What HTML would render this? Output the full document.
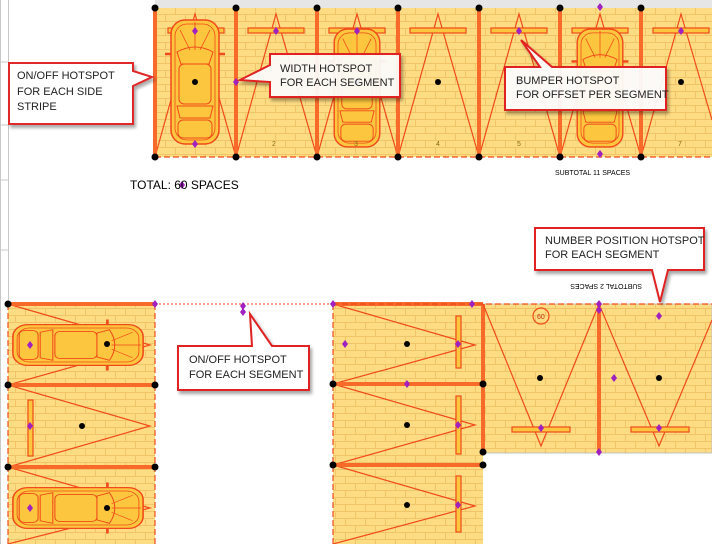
<!DOCTYPE html>
<html><head><meta charset="utf-8"><style>
html,body{margin:0;padding:0;background:#fff;width:712px;height:544px;overflow:hidden}
svg{display:block}
text{font-family:"Liberation Sans",sans-serif}
</style></head><body>
<svg width="712" height="544" viewBox="0 0 712 544" xmlns="http://www.w3.org/2000/svg">
<defs>
<pattern id="brick" width="20" height="14" patternUnits="userSpaceOnUse">
<rect width="20" height="14" fill="#fddc84"/>
<path d="M0 0.5H20M0 7.5H20M5.5 0V7M15.5 7V14" stroke="#f2c468" stroke-width="1" fill="none"/>
</pattern>
<filter id="sh" x="-10%" y="-10%" width="130%" height="140%"><feDropShadow dx="2" dy="3" stdDeviation="1.5" flood-color="#000" flood-opacity="0.35"/></filter>
<g id="car">
<rect x="-24" y="-62" width="48" height="124" rx="14" fill="#fcc63e" stroke="#f04a1a" stroke-width="1.5"/>
<rect x="-20" y="-58" width="40" height="116" rx="12" fill="none" stroke="#f04a1a" stroke-width="0.8"/>
<path d="M-18 -30Q0 -40 18 -30L14 -18H-14Z" fill="none" stroke="#f04a1a"/>
<path d="M-15 -52L-5 -32M15 -52L5 -32M0 -60V-32" stroke="#f04a1a" stroke-width="0.8" fill="none"/>
<rect x="-16" y="-18" width="32" height="40" rx="5" fill="#fcc63e" stroke="#f04a1a"/>
<path d="M-18 24H18L15 36H-15Z" fill="none" stroke="#f04a1a"/>
<rect x="-17" y="38" width="34" height="18" rx="5" fill="none" stroke="#f04a1a"/>
<path d="M-24 -28H-30M24 -28H30" stroke="#f04a1a" stroke-width="2.5"/>
</g>
</defs>
<path d="M0.5 0V544M8.5 0V544M0 62H8M0 125H8M0 180H8M0 250H8" stroke="#c8c8c8" fill="none"/>
<rect x="155" y="0" width="557" height="8" fill="#e6e6e6"/>
<path d="M155 8.5H712" stroke="#a0a0a0"/>
<rect x="155" y="8" width="557" height="149" fill="url(#brick)"/>
<rect x="8" y="304" width="147" height="240" fill="url(#brick)"/>
<rect x="333" y="304" width="150" height="240" fill="url(#brick)"/>
<rect x="483" y="304" width="229" height="149" fill="url(#brick)" stroke="#c0c0c0"/>
<g stroke="#f04a1a" fill="none" stroke-width="1.2">
<path d="M155 157L195 14L236 157L276 14L317 157L357 14L398 157L438 14L479 157L519 14L560 157L600 14L641 157L681 14L712 120"/>
<g stroke-width="4" stroke="#f76a2a"><path d="M155 8V157M236 8V157M317 8V157M398 8V157M479 8V157M560 8V157M641 8V157"/></g>
<path d="M155 157H712" stroke-dasharray="6 3"/>
<g fill="#fcc63e"><rect x="168" y="28" width="56" height="5"/><rect x="248" y="28" width="56" height="5"/><rect x="329" y="28" width="56" height="5"/><rect x="410" y="28" width="56" height="5"/><rect x="491" y="28" width="56" height="5"/><rect x="572" y="28" width="56" height="5"/><rect x="653" y="28" width="56" height="5"/></g>
<path d="M8 304L150 345L8 385L150 426L8 467L150 508L8 544"/>
<g stroke-width="4" stroke="#f76a2a"><path d="M8 304H155M8 385H155M8 467H155"/></g>
<path d="M8 304V544M155 304V544" stroke-dasharray="6 3"/>
<rect x="28" y="400" width="5" height="56" fill="#fcc63e"/>
<path d="M333 304L475 345L333 384L475 425L333 465L475 506L333 544"/>
<g stroke-width="4" stroke="#f76a2a"><path d="M333 304H483M333 384H483M333 465H483M483 304V453"/></g>
<path d="M333 304V544" stroke-dasharray="6 3"/>
<g fill="#fcc63e"><rect x="456" y="316" width="5" height="52"/><rect x="456" y="396" width="5" height="58"/><rect x="456" y="476" width="5" height="56"/></g>
<path d="M483 304L541 446L599 304L659 446L712 320"/>
<g stroke-width="4" stroke="#f76a2a"><path d="M599 304V453"/></g>
<path d="M155 304H333" stroke-dasharray="2 2" stroke-width="1"/>
<path d="M333 304H712" stroke-dasharray="6 3"/>
<g fill="#fcc63e"><rect x="512" y="427" width="58" height="5"/><rect x="631" y="427" width="58" height="5"/></g>
<circle cx="541" cy="316" r="8"/>
</g>
<use href="#car" transform="translate(195,82)"/>
<use href="#car" transform="translate(357,88) scale(0.95,0.95)"/>
<use href="#car" transform="translate(600,88) scale(0.95,0.95)"/>
<use href="#car" transform="translate(78,345) rotate(90) scale(0.85,1.05)"/>
<use href="#car" transform="translate(78,508) rotate(90) scale(0.85,1.05)"/>
<g font-size="7" fill="#8a6a10"><text x="272" y="146">2</text><text x="354" y="146">3</text><text x="436" y="146">4</text><text x="517" y="146">5</text><text x="678" y="146">7</text><text x="537" y="319" fill="#c03010">60</text></g>
<g fill="#000">
<circle cx="155" cy="8" r="3.5"/><circle cx="236" cy="8" r="3.5"/><circle cx="317" cy="8" r="3.5"/><circle cx="398" cy="8" r="3.5"/><circle cx="479" cy="8" r="3.5"/><circle cx="560" cy="8" r="3.5"/><circle cx="641" cy="8" r="3.5"/>
<circle cx="155" cy="157" r="3.5"/><circle cx="236" cy="157" r="3.5"/><circle cx="317" cy="157" r="3.5"/><circle cx="398" cy="157" r="3.5"/><circle cx="479" cy="157" r="3.5"/><circle cx="560" cy="157" r="3.5"/><circle cx="641" cy="157" r="3.5"/>
<circle cx="195" cy="82" r="3"/><circle cx="357" cy="82" r="3"/><circle cx="438" cy="82" r="3"/><circle cx="519" cy="82" r="3"/><circle cx="681" cy="82" r="3"/>
<circle cx="8" cy="304" r="3.5"/><circle cx="8" cy="385" r="3.5"/><circle cx="155" cy="385" r="3.5"/><circle cx="8" cy="467" r="3.5"/><circle cx="155" cy="467" r="3.5"/>
<circle cx="82" cy="426" r="3"/><circle cx="107" cy="344" r="3"/><circle cx="107" cy="508" r="3"/>
<circle cx="333" cy="384" r="3.5"/><circle cx="483" cy="384" r="3.5"/><circle cx="333" cy="465" r="3.5"/><circle cx="483" cy="465" r="3.5"/><circle cx="483" cy="452" r="3.5"/>
<circle cx="407" cy="344" r="3"/><circle cx="407" cy="425" r="3"/><circle cx="407" cy="505" r="3"/>
<circle cx="540" cy="378" r="3"/><circle cx="659" cy="378" r="3"/>
</g>
<g fill="#a020c0">
<path d="M195 27l3 4-3 4-3-4z"/><path d="M276 27l3 4-3 4-3-4z"/><path d="M357 27l3 4-3 4-3-4z"/><path d="M519 27l3 4-3 4-3-4z"/><path d="M681 27l3 4-3 4-3-4z"/><path d="M236 78l3 4-3 4-3-4z"/><path d="M195 140l3 4-3 4-3-4z"/><path d="M600 3l3 4-3 4-3-4z"/><path d="M600 150l3 4-3 4-3-4z"/>
<path d="M155 300l3 4-3 4-3-4z"/><path d="M243 302l3 4-3 4-3-4z"/><path d="M243 308l3 4-3 4-3-4z"/><path d="M30 422l3 4-3 4-3-4z"/><path d="M30 341l3 4-3 4-3-4z"/><path d="M30 504l3 4-3 4-3-4z"/>
<path d="M333 300l3 4-3 4-3-4z"/><path d="M345 340l3 4-3 4-3-4z"/><path d="M407 380l3 4-3 4-3-4z"/><path d="M458 340l3 4-3 4-3-4z"/><path d="M458 421l3 4-3 4-3-4z"/><path d="M458 501l3 4-3 4-3-4z"/><path d="M472 300l3 4-3 4-3-4z"/>
<path d="M599 300l3 4-3 4-3-4z"/><path d="M599 306l3 4-3 4-3-4z"/><path d="M599 448l3 4-3 4-3-4z"/><path d="M659 312l3 4-3 4-3-4z"/><path d="M614 374l3 4-3 4-3-4z"/><path d="M541 424l3 4-3 4-3-4z"/><path d="M659 424l3 4-3 4-3-4z"/>
<path d="M182 181l3 4-3 4-3-4z"/>
</g>
<text x="130" y="189" font-size="12" fill="#000">TOTAL: 60 SPACES</text>
<text x="555" y="175" font-size="7" fill="#000">SUBTOTAL 11 SPACES</text>
<text x="0" y="0" font-size="7" fill="#000" transform="translate(642,284) rotate(180)">SUBTOTAL 2 SPACES</text>
<g font-size="11" fill="#222">
<path d="M9 63H133V71L152 77L133 86V124H9Z" fill="#fff" stroke="#e02020" stroke-width="2" filter="url(#sh)" opacity="0.97"/>
<text x="17" y="79">ON/OFF HOTSPOT</text><text x="17" y="95">FOR EACH SIDE</text><text x="17" y="110">STRIPE</text>
<path d="M270 54H400V97H270V82L240 80L270 65Z" fill="#fff" fill-opacity="0.9" stroke="#e02020" stroke-width="2" filter="url(#sh)"/>
<text x="280" y="72">WIDTH HOTSPOT</text><text x="280" y="86">FOR EACH SEGMENT</text>
<path d="M505 67H540L521 40L552 67H666V110H505Z" fill="#fff" fill-opacity="0.92" stroke="#e02020" stroke-width="2" filter="url(#sh)"/>
<text x="516" y="84">BUMPER HOTSPOT</text><text x="516" y="98">FOR OFFSET PER SEGMENT</text>
<path d="M535 228H704V270H668L660 302L652 270H535Z" fill="#fff" stroke="#e02020" stroke-width="2" filter="url(#sh)"/>
<text x="545" y="244">NUMBER POSITION HOTSPOT</text><text x="545" y="258">FOR EACH SEGMENT</text>
<path d="M178 346H252L250 314L272 346H309V390H178Z" fill="#fff" stroke="#e02020" stroke-width="2" filter="url(#sh)"/>
<text x="189" y="363">ON/OFF HOTSPOT</text><text x="189" y="378">FOR EACH SEGMENT</text>
</g>
</svg>
</body></html>
